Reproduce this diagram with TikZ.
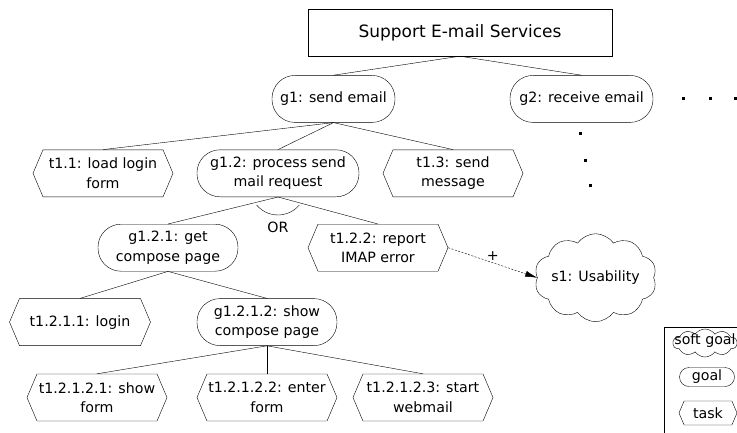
\documentclass[tikz,border=0pt]{standalone}
\usepackage{fontspec}
\setmainfont{DejaVu Sans}
\usetikzlibrary{positioning,shapes.symbols,arrows.meta}

\tikzset{
  every node/.style={font=\fontsize{14.2pt}{19.5pt}\selectfont, align=center},
  root/.style={draw, rectangle, minimum width=304pt, minimum height=47pt,
    font=\fontsize{17pt}{20pt}\selectfont},
  goal/.style={draw, rectangle, rounded corners=23pt, minimum width=140pt,
    minimum height=47pt, inner sep=1pt},
  task/.style={draw, signal, signal to=east and west, signal pointer angle=134,
    minimum width=140pt, minimum height=47pt, inner sep=1pt},
  softgoal/.style={draw, cloud, cloud puffs=10, cloud puff arc=110, cloud ignores aspect,
    minimum width=118pt, minimum height=88pt, inner sep=0pt},
  contrib/.style={dash pattern=on 2pt off 1.5pt, -{Latex[length=12pt,width=6pt]}},
  dot/.style={fill, rectangle, inner sep=0pt, minimum size=3pt},
}

\begin{document}
\begin{tikzpicture}[node distance=27pt]

    \useasboundingbox (0,0) rectangle (737pt,-432pt);
    \clip (0,0) rectangle (737pt,-432pt);

    % Define nodes
    \node[root] (support) at (460pt,-32.5pt) {Support E-mail Services};
    \node[goal, minimum width=123pt, below=19pt of support, xshift=-126.5pt] (g1) {g1: send email};
    \node[goal, minimum width=143pt, below=19pt of support, xshift=121.5pt]  (g2) {g2: receive email};

    \node[task, below=of g1, xshift=-230.5pt]                (t1-1) {t1.1: load login\\form};
    \node[goal, minimum width=162pt, below=of g1, xshift=-55.5pt] (g1-2) {g1.2: process send\\mail request};
    \node[task, below=of g1, xshift=119.5pt]                 (t1-3) {t1.3: send\\message};

    \node[goal, below=of g1-2, xshift=-110pt]                (g1-2-1) {g1.2.1: get\\compose page};
    \node[task, below=of g1-2, xshift=100pt]                 (t1-2-2) {t1.2.2: report\\IMAP error};
    \node[softgoal, right=89pt of t1-2-2, yshift=-30pt]      (s1) {s1: Usability};
    \node at ([yshift=-30pt]g1-2.south)                      (or) {OR};

    \node[task, minimum width=141pt, below=of g1-2-1, xshift=-88pt] (t1-2-1-1) {t1.2.1.1: login};
    \node[goal, below=of g1-2-1, xshift=99pt]                (g1-2-1-2) {g1.2.1.2: show\\compose page};

    \node[task, below=28pt of g1-2-1-2, xshift=-170pt]       (t1-2-1-2-1) {t1.2.1.2.1: show\\form};
    \node[task, below=28pt of g1-2-1-2]                      (t1-2-1-2-2) {t1.2.1.2.2: enter\\form};
    \node[task, below=28pt of g1-2-1-2, xshift=156pt]        (t1-2-1-2-3) {t1.2.1.2.3: start\\webmail};

    % Connect the nodes
    \draw (support.south) -- (g1.north);
    \draw (support.south) -- (g2.north);
    \draw (g1.south) -- (t1-1.north);
    \draw (g1.south) -- (g1-2.north);
    \draw (g1.south) -- (t1-3.north);
    \draw (g1-2.south) -- (g1-2-1.north);
    \draw (g1-2.south) -- (t1-2-2.north);
    \draw ([yshift=10pt]g1-2.south) ++(-140:28pt) arc[start angle=-140, end angle=-40, radius=28pt];
    \draw (g1-2-1.south) -- (t1-2-1-1.north);
    \draw (g1-2-1.south) -- (g1-2-1-2.north);
    \draw (g1-2-1-2.south) -- (t1-2-1-2-1.north);
    \draw (g1-2-1-2.south) -- (t1-2-1-2-2.north);
    \draw (g1-2-1-2.south) -- (t1-2-1-2-3.north);
    \draw[contrib] (t1-2-2.east) -- node[midway, above, inner sep=2pt] {+} (s1.west);

    % More goals left out
    \foreach \x/\y in {683/98, 710/98, 735/98, 580/133, 585/160, 590/185}
      \node[dot] at (\x pt,-\y pt) {};

    % Legend
    \draw (664pt,-327pt) rectangle (760pt,-450pt);
    \node[softgoal, minimum width=64pt, minimum height=28pt] (key-soft) at (705pt,-343pt) {};
    \node at ([yshift=2pt]key-soft.center) {soft goal};
    \node[goal, rounded corners=9.5pt, minimum width=55pt, minimum height=19pt, inner sep=0pt] (key-goal) at (707pt,-377pt) {goal};
    \node[task, minimum width=58pt, minimum height=24pt, inner sep=0pt] (key-task) at (708pt,-413pt) {task};

\end{tikzpicture}
\end{document}
